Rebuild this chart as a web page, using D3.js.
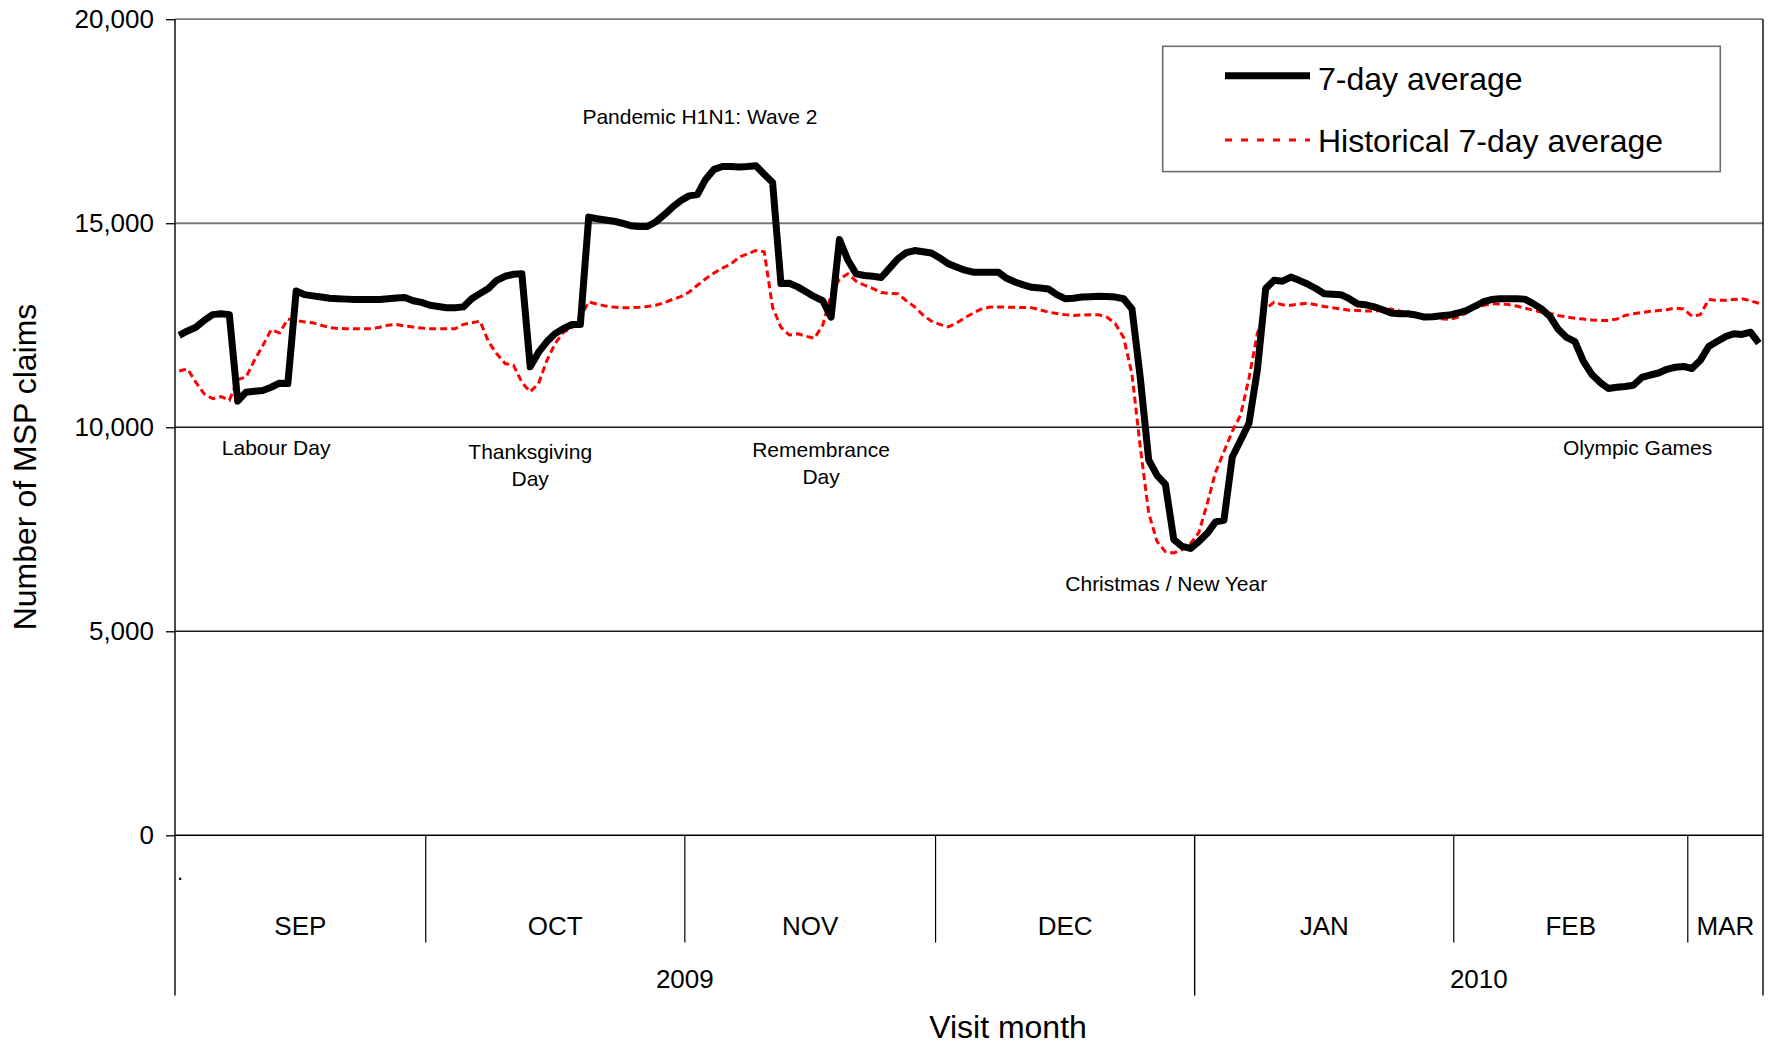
<!DOCTYPE html>
<html>
<head>
<meta charset="utf-8">
<script src="https://cdn.jsdelivr.net/npm/d3@7"></script>
<style>
  html, body { margin: 0; padding: 0; background: #fff; }
  svg { display: block; font-family: "Liberation Sans", Arial, sans-serif; }
</style>
</head>
<body>
<svg id="chart" width="1770" height="1047"></svg>
<script>
// ---------------- DATA ----------------
const startDate = "2009-09-01";   // first day shown (one value per day)

const sevenDayAvg = [
  12250,12360,12450,12620,12760,12780,12760,10640,10860,10880,
  10900,10980,11080,11070,13340,13250,13220,13190,13160,13150,
  13140,13130,13130,13130,13130,13150,13170,13180,13100,13060,
  12990,12960,12930,12930,12950,13150,13280,13400,13600,13700,
  13750,13760,11480,11840,12100,12300,12420,12520,12520,15150,
  15110,15080,15050,15000,14940,14920,14920,15030,15200,15390,
  15550,15670,15700,16080,16320,16390,16390,16380,16390,16410,
  16200,16000,13520,13530,13440,13320,13200,13100,12700,14600,
  14100,13760,13720,13700,13670,13900,14130,14280,14330,14300,
  14270,14150,14010,13930,13850,13800,13800,13800,13800,13650,
  13560,13490,13430,13410,13390,13250,13150,13160,13190,13200,
  13210,13205,13190,13150,12900,11200,9200,8820,8600,7250,
  7080,7030,7200,7400,7680,7720,9270,9680,10100,11400,
  13400,13600,13580,13680,13600,13510,13400,13270,13260,13250,
  13150,13020,13000,12950,12880,12800,12780,12780,12750,12700,
  12710,12730,12750,12800,12860,12960,13070,13130,13150,13150,
  13150,13140,13030,12900,12720,12400,12200,12100,11620,11300,
  11100,10950,10980,11000,11030,11220,11280,11330,11420,11470,
  11490,11440,11640,11980,12100,12220,12290,12275,12330,12060
];

const historicalAvg = [
  11380,11430,11100,10820,10700,10750,10660,11170,11230,11640,
  12000,12390,12310,12650,12620,12580,12560,12500,12440,12420,
  12414,12414,12414,12414,12450,12500,12520,12480,12455,12430,
  12414,12414,12414,12414,12520,12560,12600,12100,11800,11560,
  11520,11100,10870,11070,11640,12060,12330,12440,12700,13070,
  13020,12970,12944,12930,12928,12940,12960,12990,13050,13130,
  13200,13310,13480,13640,13780,13900,14000,14170,14250,14330,
  14300,12940,12450,12260,12290,12230,12180,12500,13250,13630,
  13760,13580,13480,13400,13300,13280,13270,13100,12950,12750,
  12600,12520,12460,12550,12680,12800,12900,12944,12944,12944,
  12940,12935,12930,12880,12820,12790,12760,12740,12750,12757,
  12757,12700,12540,12200,11300,9500,7900,7200,6950,6920,
  7000,7150,7420,8130,8900,9400,9900,10300,11200,12300,
  12900,13066,13000,12990,13020,13042,13000,12960,12930,12900,
  12870,12860,12850,12846,12870,12900,12850,12790,12750,12720,
  12690,12660,12640,12700,12800,12920,12980,13026,13020,13010,
  12970,12920,12870,12820,12790,12740,12700,12670,12650,12630,
  12618,12618,12650,12740,12780,12810,12840,12860,12880,12920,
  12900,12720,12760,13130,13110,13110,13130,13148,13100,13040
];

const yTicks = [0, 5000, 10000, 15000, 20000];
const monthLabels = ["SEP", "OCT", "NOV", "DEC", "JAN", "FEB", "MAR"];
const yearLabels = ["2009", "2010"];
const seriesNames = ["7-day average", "Historical 7-day average"];

// annotation anchors in data space: day offset from start, claims value
const annotationText = [["Labour Day"], ["Thanksgiving", "Day"], ["Pandemic H1N1: Wave 2"],
                        ["Remembrance", "Day"], ["Christmas / New Year"], ["Olympic Games"]];
const annotationDay   = [12.1, 42.5, 62.8, 77.3, 118.6, 175.0];
const annotationValue = [9512, 9402, 17614, 9463, 6166, 9512];

// ---------------- LAYOUT ----------------
const svg = d3.select("#chart");
const W = 1770, H = 1047;
const plot = { left: 175, right: 1763, top: 19.2, bottom: 835.3 };
const font = '"Liberation Sans", Arial, sans-serif';

svg.append("rect").attr("width", W).attr("height", H).attr("fill", "#fff");

const nDays = sevenDayAvg.length;
const x = d3.scaleLinear().domain([0, nDays]).range([plot.left, plot.right]);
const y = d3.scaleLinear().domain([0, 20000]).range([plot.bottom, plot.top]);

// gridlines
svg.append("g").selectAll("line").data(yTicks.filter(d => d > 0)).join("line")
  .attr("x1", plot.left).attr("x2", plot.right)
  .attr("y1", d => y(d)).attr("y2", d => y(d))
  .attr("stroke", d => d >= 15000 ? "#7a7a7a" : "#1a1a1a")
  .attr("stroke-width", d => d >= 15000 ? 1.8 : 1.4);

// y axis
const yAxis = svg.append("g").attr("transform", `translate(${plot.left},0)`)
  .call(d3.axisLeft(y).tickValues(yTicks).tickFormat(d3.format(",")).tickSize(9).tickPadding(12));
yAxis.select(".domain").remove();
yAxis.selectAll(".tick line").attr("stroke", "#000").attr("stroke-width", 1.3);
yAxis.selectAll(".tick text").attr("font-size", 26).attr("font-family", font).attr("fill", "#000");

// category axis: day bands grouped by month and year
const parse = d3.utcParse("%Y-%m-%d");
const t0 = parse(startDate);
const dates = d3.range(nDays).map(i => d3.utcDay.offset(t0, i));
const monthStarts = [0];
const yearStarts = [0];
dates.forEach((d, i) => {
  if (i > 0 && d.getUTCMonth() !== dates[i - 1].getUTCMonth()) monthStarts.push(i);
  if (i > 0 && d.getUTCFullYear() !== dates[i - 1].getUTCFullYear()) yearStarts.push(i);
});
const monthEdges = monthStarts.concat([nDays]);
const yearEdges = yearStarts.concat([nDays]);

const monthTickBottom = 942.6, yearTickBottom = 995.6;

// x axis line (value 0)
svg.append("line").attr("x1", plot.left).attr("x2", plot.right)
  .attr("y1", y(0)).attr("y2", y(0)).attr("stroke", "#000").attr("stroke-width", 1.6);

// month dividers
svg.append("g").selectAll("line").data(monthEdges.filter(e => !yearEdges.includes(e))).join("line")
  .attr("x1", d => x(d)).attr("x2", d => x(d))
  .attr("y1", y(0)).attr("y2", monthTickBottom)
  .attr("stroke", "#000").attr("stroke-width", 1.2);
// year dividers (longer); first one is the left axis, last is right border
svg.append("g").selectAll("line").data(yearEdges).join("line")
  .attr("x1", d => x(d)).attr("x2", d => x(d))
  .attr("y1", (d, i) => (i === 0 || i === yearEdges.length - 1) ? plot.top : y(0))
  .attr("y2", yearTickBottom)
  .attr("stroke", "#000").attr("stroke-width", 1.4);

svg.append("g").selectAll("text").data(monthLabels).join("text")
  .attr("x", (d, i) => (x(monthEdges[i]) + x(monthEdges[i + 1])) / 2)
  .attr("y", 925.6).attr("dy", "0.35em")
  .attr("text-anchor", "middle").attr("font-size", 26).attr("font-family", font)
  .text(d => d);

svg.append("g").selectAll("text").data(yearLabels).join("text")
  .attr("x", (d, i) => (x(yearEdges[i]) + x(yearEdges[i + 1])) / 2)
  .attr("y", 978.7).attr("dy", "0.35em")
  .attr("text-anchor", "middle").attr("font-size", 26).attr("font-family", font)
  .text(d => d);

// stray dot seen in the original
svg.append("text").attr("x", 177).attr("y", 880).attr("font-size", 22).attr("font-family", font).text(".");

// axis titles
svg.append("text").attr("x", 1008).attr("y", 1038)
  .attr("text-anchor", "middle").attr("font-size", 32).attr("font-family", font).text("Visit month");
svg.append("text").attr("transform", "translate(25,467) rotate(-90)").attr("dy", "0.35em")
  .attr("text-anchor", "middle").attr("font-size", 32).attr("font-family", font).text("Number of MSP claims");

// lines
const line = d3.line().x((d, i) => x(i + 0.5)).y(d => y(d));
svg.append("path").datum(historicalAvg).attr("d", line)
  .attr("fill", "none").attr("stroke", "#ff0000").attr("stroke-width", 3)
  .attr("stroke-dasharray", "7,4");
svg.append("path").datum(sevenDayAvg).attr("d", line)
  .attr("fill", "none").attr("stroke", "#000").attr("stroke-width", 7)
  .attr("stroke-linejoin", "round").attr("stroke-linecap", "butt");

// annotations
const ann = svg.append("g");
annotationText.forEach((lines, k) => {
  const t = ann.append("text").attr("text-anchor", "middle")
    .attr("font-size", 21).attr("font-family", font);
  lines.forEach((s, j) => {
    t.append("tspan").attr("x", x(annotationDay[k]))
      .attr("y", y(annotationValue[k]) + j * 27).attr("dy", "0.35em").text(s);
  });
});

// legend
const lg = svg.append("g");
lg.append("rect").attr("x", 1162.7).attr("y", 46.3).attr("width", 557.6).attr("height", 125.3)
  .attr("fill", "#fff").attr("stroke", "#6e6e6e").attr("stroke-width", 1.6);
lg.append("line").attr("x1", 1225).attr("x2", 1310).attr("y1", 75.7).attr("y2", 75.7)
  .attr("stroke", "#000").attr("stroke-width", 7);
lg.append("line").attr("x1", 1225).attr("x2", 1310).attr("y1", 140).attr("y2", 140)
  .attr("stroke", "#ff0000").attr("stroke-width", 3).attr("stroke-dasharray", "7,9");
lg.selectAll("text.lab").data(seriesNames).join("text")
  .attr("x", 1318).attr("y", (d, i) => i === 0 ? 90 : 151.7)
  .attr("font-size", 32).attr("font-family", font).text(d => d);
</script>
</body>
</html>
